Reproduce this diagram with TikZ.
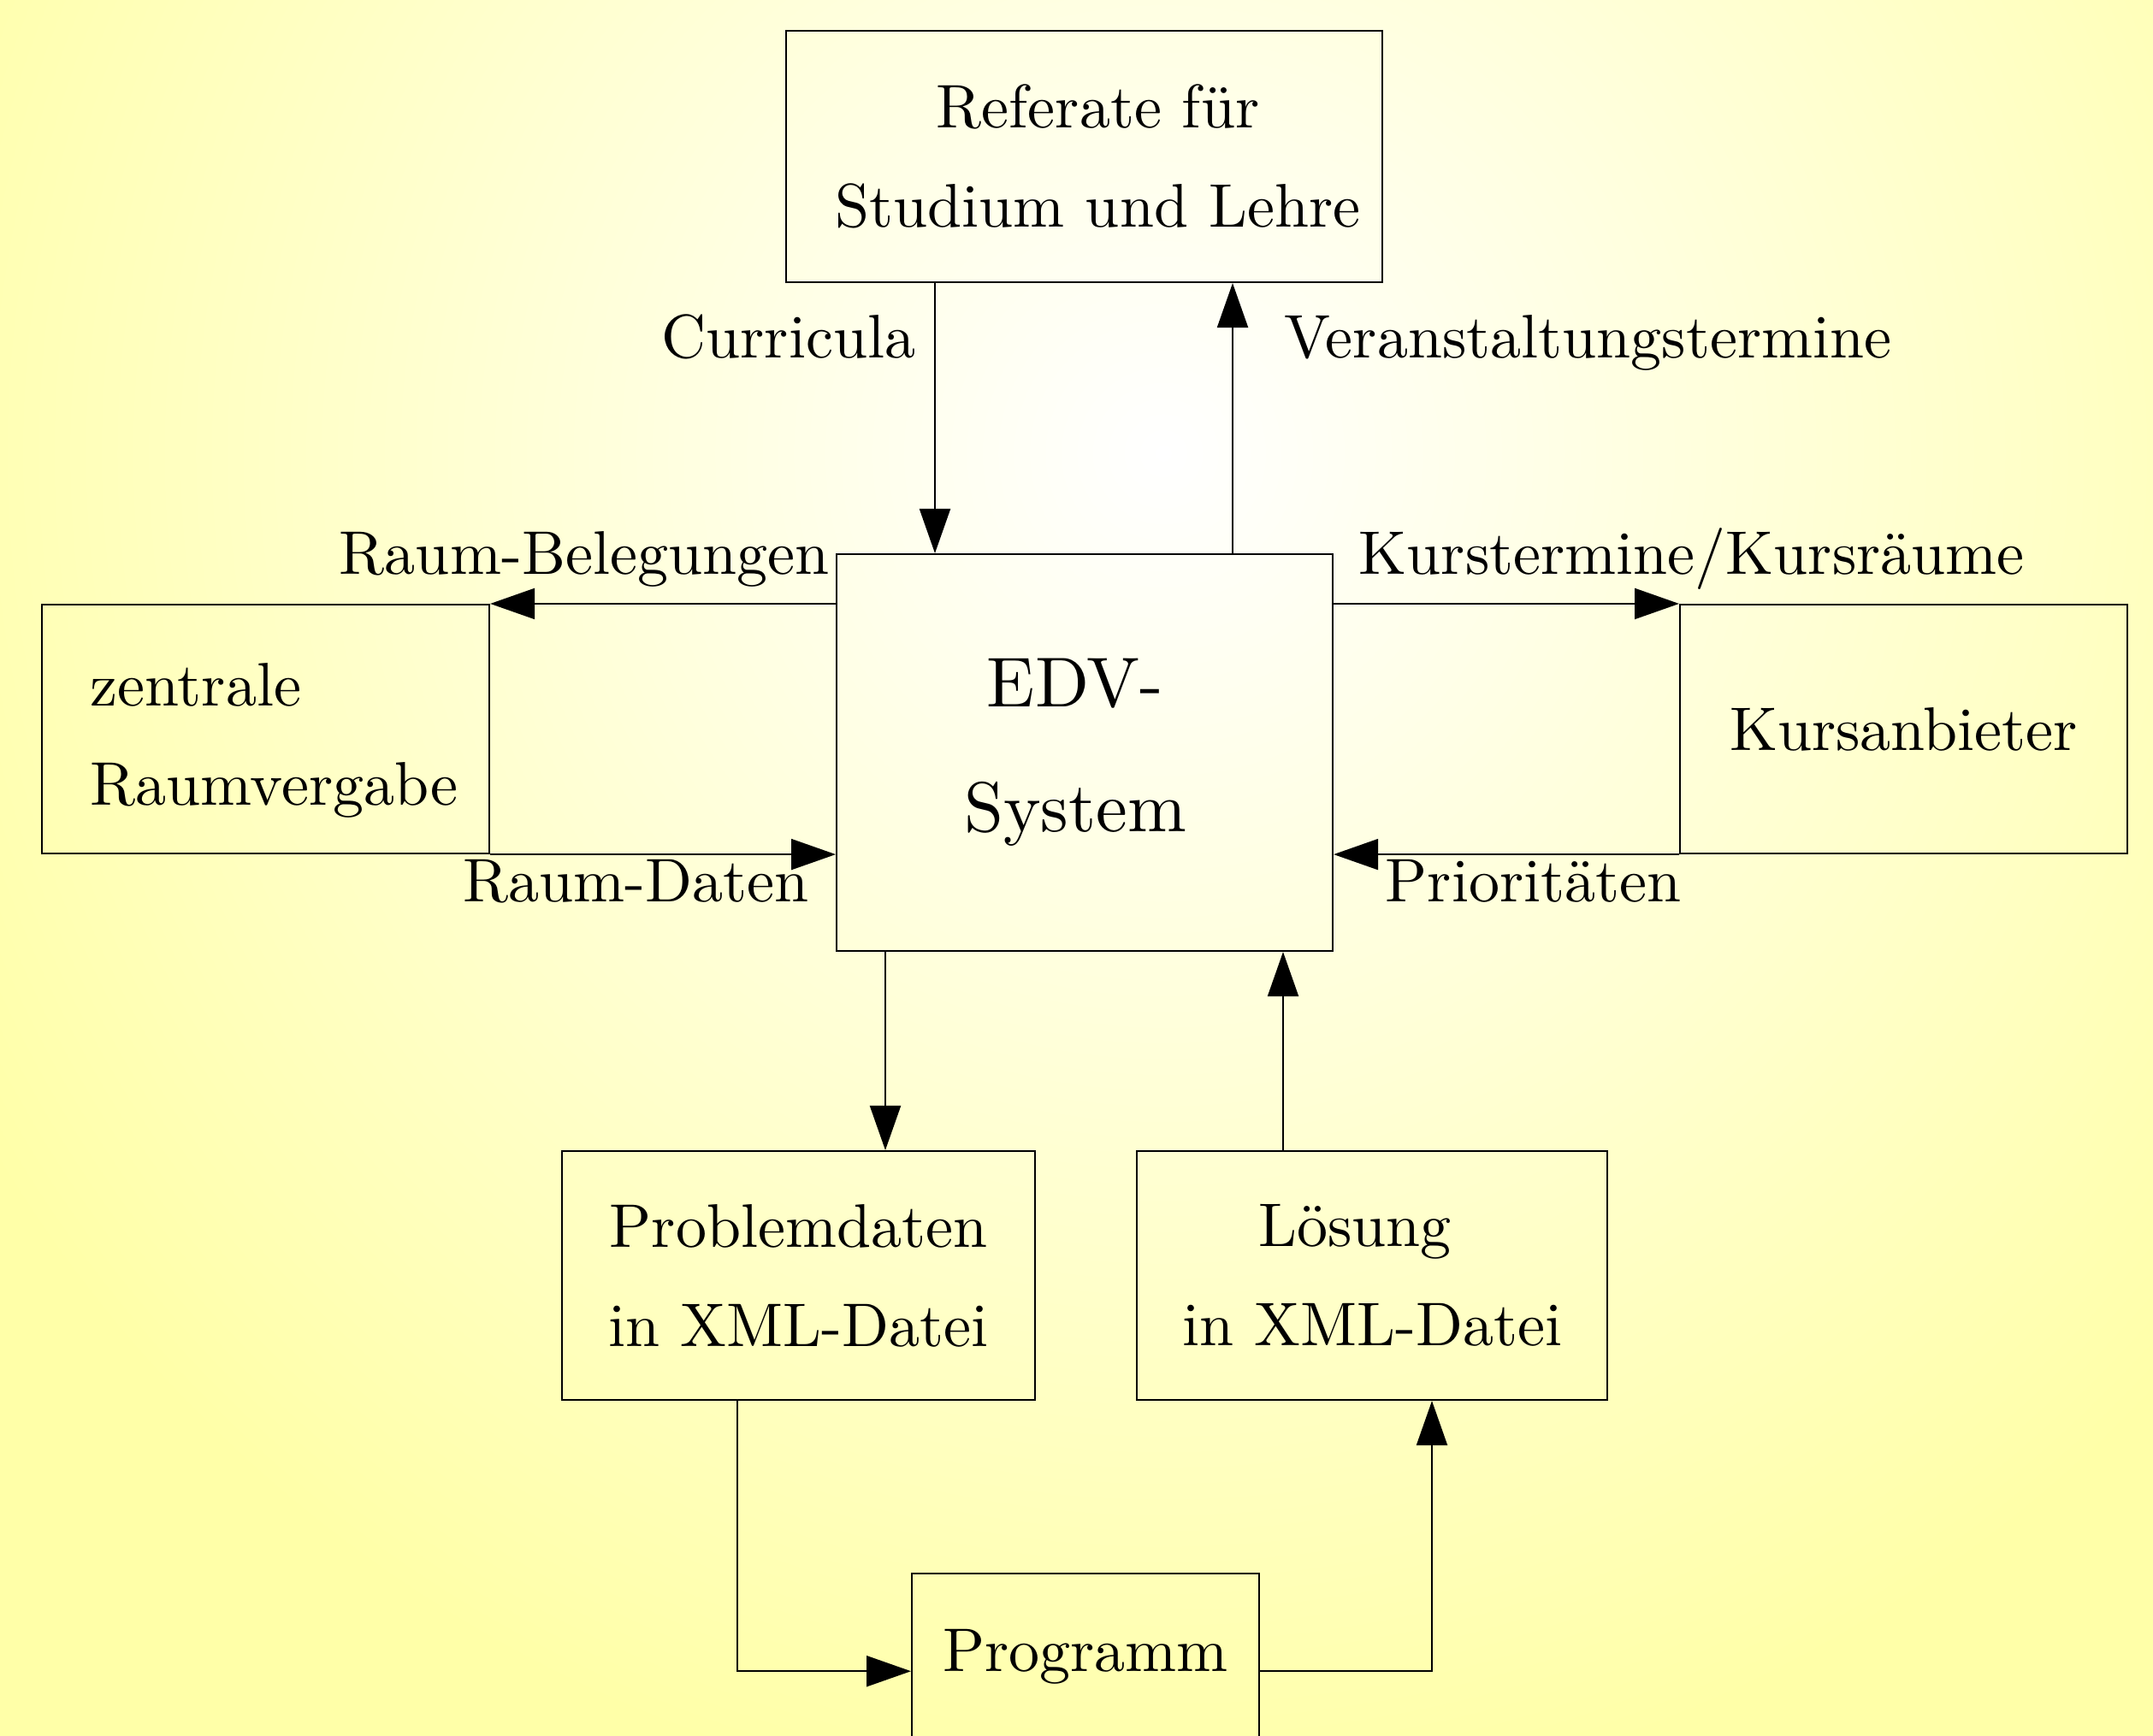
\documentclass[tikz,border=0pt]{standalone}
\usepackage{xcolor}
\usepackage{tikz}
\usetikzlibrary{arrows.meta,positioning}
\definecolor{bgYellow}{RGB}{255,255,168}
% Latin Modern 10 design at every size
\DeclareFontFamily{TU}{lmten}{}
\DeclareFontShape{TU}{lmten}{m}{n}{<-> "[lmroman10-regular]:mapping=tex-text"}{}
\newcommand\boxfont{\fontsize{20.5}{33}\fontfamily{lmten}\selectfont}
\newcommand\edvfont{\fontsize{23.5}{41.5}\fontfamily{lmten}\selectfont}
\tikzset{
  box/.style={draw,line width=0.6pt,inner sep=0pt,align=center,anchor=north west,
              font=\boxfont},
  lbl/.style={inner sep=0pt,font=\boxfont},
  arr/.style={-{Triangle[length=0.52cm,width=0.36cm]},line width=0.6pt},
}

\begin{document}
\begin{tikzpicture}
  %% ── Background ──────────────────────────────────────────────────────────
  \useasboundingbox (0,0) rectangle (25.17,20.30);
  \begin{scope}
    \clip (0,0) rectangle (25.17,20.30);
    \fill[bgYellow] (0,0) rectangle (25.17,20.30);
    \shade[inner color=white,outer color=bgYellow] (13.6,15.0) circle (16);
  \end{scope}

  %% ── Nodes ───────────────────────────────────────────────────────────────
  \node[box,minimum width=6.97cm,minimum height=2.94cm] (ref) at (9.18,19.95)
    {\hspace*{0.32cm}Referate für\\\hspace*{0.32cm}Studium und Lehre};
  \node[box,font=\edvfont,minimum width=5.80cm,minimum height=4.64cm] (edv) at (9.77,13.83)
    {EDV-\hspace*{0.22cm}\\System\hspace*{0.22cm}};
  \node[box,align=left,minimum width=5.23cm,minimum height=2.91cm] (zen) at (0.48,13.24)
    {\rule{0pt}{21.6pt}\hspace*{0.2cm}zentrale\\\hspace*{0.2cm}Raumvergabe};
  \node[box,minimum width=5.23cm,minimum height=2.91cm] (kurs) at (19.63,13.24) {Kursanbieter};
  \node[box,minimum width=5.53cm,minimum height=2.91cm] (prob) at (6.56,6.85) {Problemdaten\\in XML-Datei};
  \node[box,minimum width=5.50cm,minimum height=2.91cm,right=1.17cm of prob] (loes)
    {Lösung\hspace*{0.4cm}\\in XML-Datei};
  \node[box,minimum width=4.06cm,minimum height=1.94cm] (prog) at (10.65,1.91) {Programm};

  %% ── Labels ──────────────────────────────────────────────────────────────
  \node[lbl,anchor=base east] (lcurr)  at (10.71,16.11) {Curricula};
  \node[lbl,anchor=base west] (lver)   at (15.01,16.11) {Veranstaltungstermine};
  \node[lbl,anchor=base east] (lbeleg) at (9.70,13.58)  {Raum-Belegungen};
  \node[lbl,anchor=base west] (lkurs)  at (15.88,13.58) {Kurstermine/Kursräume};
  \node[lbl,anchor=base east] (ldaten) at (9.46,9.75)   {Raum-Daten};
  \node[lbl,anchor=base west] (lprio)  at (16.19,9.75)  {Prioritäten};

  %% ── Arrows ──────────────────────────────────────────────────────────────
  \coordinate (curx) at (10.93,0);
  \coordinate (verx) at (14.41,0);
  \coordinate (outx) at (10.35,0);
  \coordinate (inx)  at (15.00,0);
  \coordinate (lowl) at (8.62,0);
  \coordinate (lowr) at (16.74,0);

  \draw[arr] (ref.south -| curx) -- (edv.north -| curx);
  \draw[arr] (edv.north -| verx) -- (ref.south -| verx);
  \draw[arr] (edv.west |- zen.north east) -- (zen.north east);
  \draw[arr] (zen.south east) -- (edv.west |- zen.south east);
  \draw[arr] (edv.east |- kurs.north west) -- (kurs.north west);
  \draw[arr] (kurs.south west) -- (edv.east |- kurs.south west);
  \draw[arr] (edv.south -| outx) -- (prob.north -| outx);
  \draw[arr] (loes.north -| inx) -- (edv.south -| inx);
  \draw[arr] (prob.south -| lowl) |- (prog.base west);
  \draw[arr] (prog.base east) -| (loes.south -| lowr);
\end{tikzpicture}
\end{document}
